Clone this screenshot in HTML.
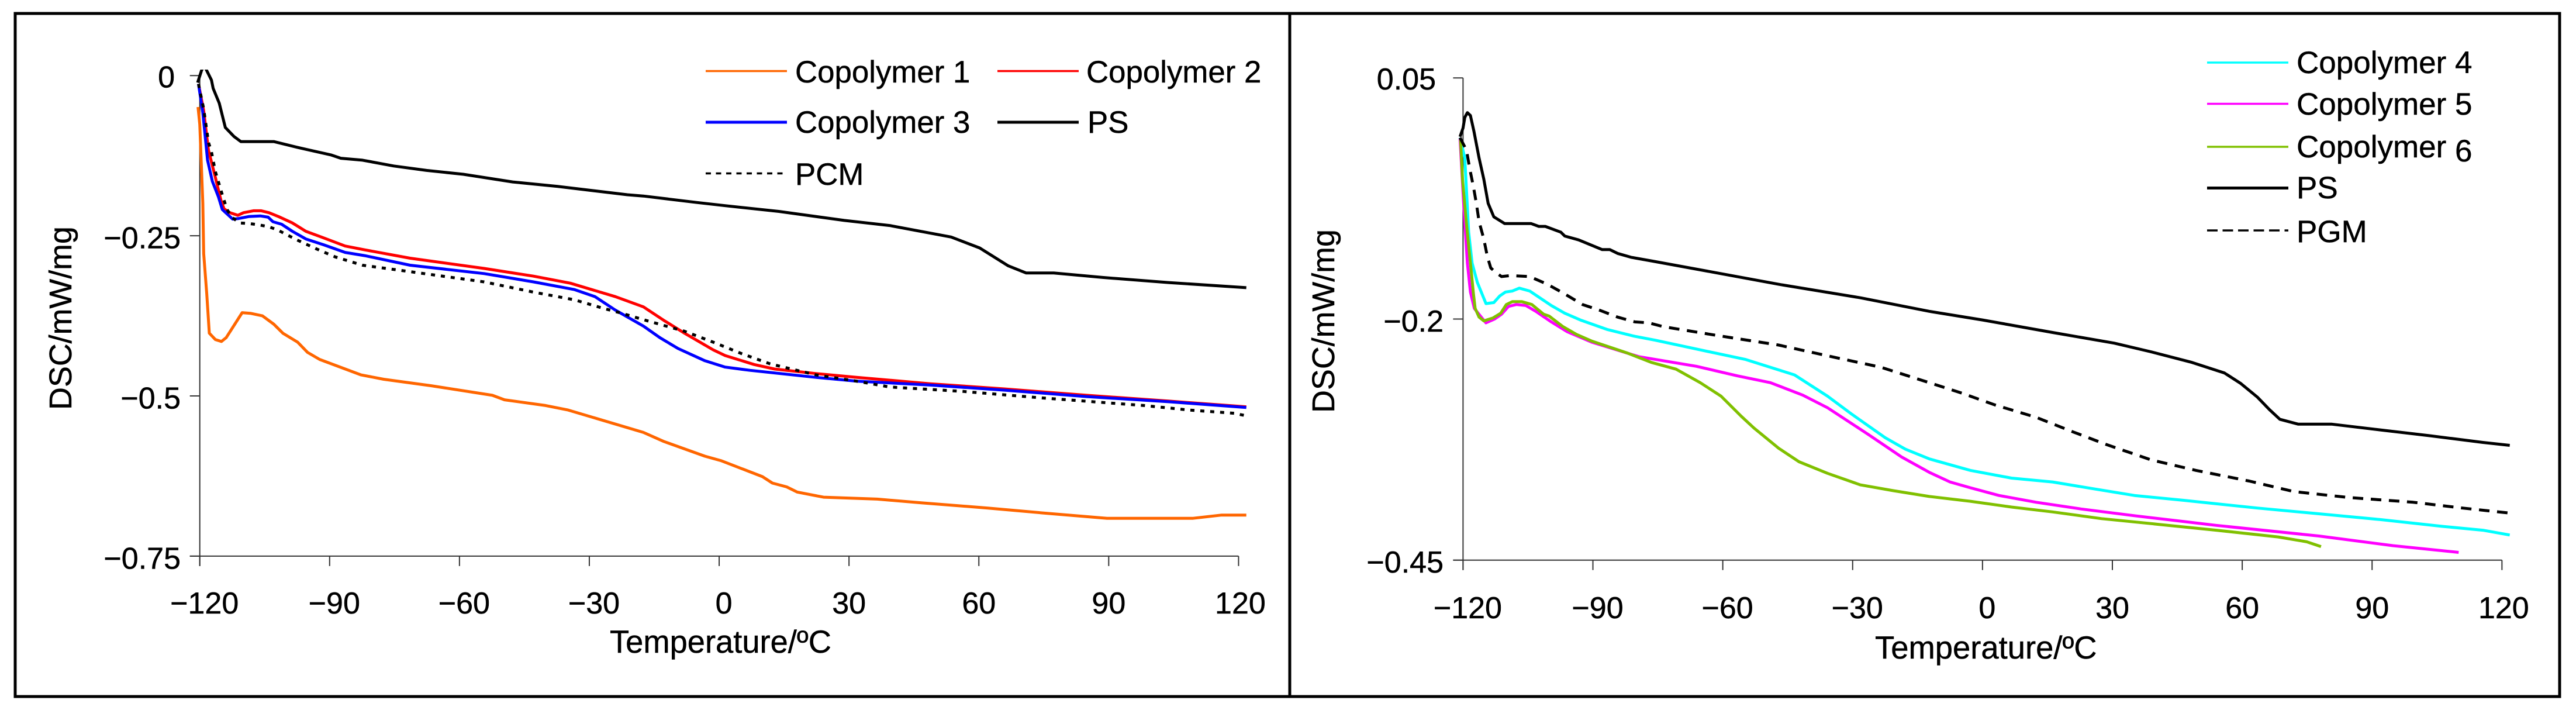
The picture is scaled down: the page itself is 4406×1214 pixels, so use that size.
<!DOCTYPE html>
<html lang="en">
<head>
<meta charset="utf-8">
<title>DSC curves of copolymers</title>
<style>
  html, body { margin: 0; padding: 0; background: #fff; }
  svg { display: block; }
  text { font-family: "Liberation Sans", Arial, sans-serif; fill: #000; stroke: #000; stroke-width: 0.5px; }
</style>
</head>
<body>
<svg id="figure" xmlns="http://www.w3.org/2000/svg" width="4406" height="1214" viewBox="0 0 4406 1214">
  <defs>
    <clipPath id="left-clip"><rect x="300" y="119" width="1900" height="840"/></clipPath>
  </defs>
  <rect x="0" y="0" width="4406" height="1214" fill="#fff"/>
  <rect x="26" y="23" width="4352" height="1168" fill="none" stroke="#000" stroke-width="5"/>
  <line x1="2206" y1="23" x2="2206" y2="1191" stroke="#000" stroke-width="5"/>

  <g id="left-axes"></g>
  <g id="left-series" clip-path="url(#left-clip)"></g>
  <g id="right-axes"></g>
  <g id="right-series"></g>

  <text x="1043" y="1116" font-size="54.3">Temperature/ºC</text>
  <text transform="translate(122,544) rotate(-90)" text-anchor="middle" font-size="53.8">DSC/mW/mg</text>
  <text x="3207" y="1126" font-size="54.4">Temperature/ºC</text>
  <text transform="translate(2282,549) rotate(-90)" text-anchor="middle" font-size="53.8">DSC/mW/mg</text>

  <g font-size="52.8">
    <g>
      <line x1="1207" y1="121.5" x2="1346" y2="121.5" stroke="#ff6600" stroke-width="3.5"/>
      <text x="1360" y="141" font-size="52.8">Copolymer 1</text>
    </g>
    <g>
      <line x1="1706" y1="121.5" x2="1845" y2="121.5" stroke="#ff0000" stroke-width="3.5"/>
      <text x="1858" y="141" font-size="52.8">Copolymer 2</text>
    </g>
    <g>
      <line x1="1207" y1="209" x2="1346" y2="209" stroke="#0000ff" stroke-width="5"/>
      <text x="1360" y="227" font-size="52.8">Copolymer 3</text>
    </g>
    <g>
      <line x1="1706" y1="209" x2="1845" y2="209" stroke="#000" stroke-width="5"/>
      <text x="1860" y="227" font-size="52.8">PS</text>
    </g>
    <g>
      <line x1="1207" y1="296.5" x2="1346" y2="296.5" stroke="#000" stroke-width="3.5" stroke-dasharray="9 8.5"/>
      <text x="1360" y="316" font-size="52.8">PCM</text>
    </g>
  </g>

  <g font-size="53">
    <g>
      <line x1="3775" y1="107" x2="3914" y2="107" stroke="#00ffff" stroke-width="3.5"/>
      <text x="3928" y="125" font-size="53">Copolymer 4</text>
    </g>
    <g>
      <line x1="3775" y1="177.5" x2="3914" y2="177.5" stroke="#ff00ff" stroke-width="3.5"/>
      <text x="3928" y="196" font-size="53">Copolymer 5</text>
    </g>
    <g>
      <line x1="3775" y1="251" x2="3914" y2="251" stroke="#80c000" stroke-width="3.5"/>
      <text x="3928" y="269" font-size="53">Copolymer <tspan dy="7">6</tspan></text>
    </g>
    <g>
      <line x1="3775" y1="321.5" x2="3914" y2="321.5" stroke="#000" stroke-width="5"/>
      <text x="3928" y="339" font-size="53">PS</text>
    </g>
    <g>
      <line x1="3775" y1="394" x2="3914" y2="394" stroke="#000" stroke-width="3.5" stroke-dasharray="18 8.5"/>
      <text x="3928" y="414" font-size="53">PGM</text>
    </g>
  </g>
</svg>

<script>
// ---- axis ticks ----
const xTicks = [-120, -90, -60, -30, 0, 30, 60, 90, 120];
const xTickLabels = ['−120', '−90', '−60', '−30', '0', '30', '60', '90', '120'];
const leftYTicks = [0, -0.25, -0.5, -0.75];
const leftYTickLabels = ['0', '−0.25', '−0.5', '−0.75'];
const rightYTicks = [0.05, -0.2, -0.45];
const rightYTickLabels = ['0.05', '−0.2', '−0.45'];

// ---- left chart series ----
const copolymer1Temps = [-120.4,-120,-119.3,-119.1,-118.4,-117.8,-116.4,-115,-113.9,-110.2,-108.3,-105.5,-102.9,-100.8,-97.4,-95.1,-92.3,-82.8,-77.5,-66.6,-52.4,-49.6,-40.1,-34.9,-17.5,-12.8,-3.3,0.4,10,12.3,15.6,18,24.1,36.5,46.9,62.1,75.4,89.6,109.5,116.1,121.8];
const copolymer1Values = [-0.049,-0.076,-0.199,-0.278,-0.339,-0.402,-0.412,-0.415,-0.409,-0.370,-0.371,-0.375,-0.388,-0.402,-0.416,-0.432,-0.443,-0.467,-0.474,-0.484,-0.499,-0.506,-0.515,-0.522,-0.557,-0.571,-0.594,-0.601,-0.626,-0.636,-0.642,-0.650,-0.658,-0.661,-0.667,-0.675,-0.683,-0.691,-0.691,-0.686,-0.686];

const copolymer2Temps = [-120.3,-119.1,-118,-116.4,-115.1,-114.4,-113,-111.2,-109.9,-107.6,-105.8,-104,-101.8,-98.6,-95.5,-91.9,-86.4,-81.9,-71.4,-54.3,-42.9,-34.4,-24,-17.5,-12.8,-8,-1.4,1.4,8.1,12.8,22.3,31.8,48.8,65.9,84.9,103.8,121.8];
const copolymer2Values = [-0.013,-0.055,-0.116,-0.159,-0.195,-0.208,-0.214,-0.218,-0.214,-0.211,-0.211,-0.214,-0.220,-0.230,-0.243,-0.252,-0.266,-0.272,-0.285,-0.301,-0.313,-0.324,-0.345,-0.361,-0.382,-0.402,-0.428,-0.437,-0.451,-0.458,-0.465,-0.471,-0.481,-0.489,-0.499,-0.508,-0.517];

const copolymer3Temps = [-120.3,-119.3,-118.2,-117.1,-115.7,-114.8,-112.4,-111,-108.7,-106,-104.2,-103.1,-101.1,-98.6,-95.5,-91.4,-86.4,-81.9,-71.4,-54.3,-42.9,-33.4,-28.7,-24,-17.5,-13.7,-9.5,-3.3,1.4,7.1,22.3,31.8,48.8,65.9,84.9,103.8,121.8];
const copolymer3Values = [-0.013,-0.058,-0.132,-0.165,-0.189,-0.209,-0.224,-0.223,-0.220,-0.219,-0.221,-0.228,-0.232,-0.243,-0.255,-0.264,-0.276,-0.281,-0.296,-0.309,-0.322,-0.334,-0.345,-0.366,-0.391,-0.409,-0.426,-0.445,-0.455,-0.460,-0.471,-0.477,-0.483,-0.491,-0.501,-0.509,-0.518];

const psLeftTemps = [-120.5,-119.6,-119,-118.4,-117.3,-116.9,-115.5,-114.1,-112.1,-110.5,-102.9,-96.8,-89.6,-87.4,-82.4,-75.2,-67.6,-59.1,-47.7,-37.3,-21.2,-17.5,-5.2,1.4,13.8,28.9,39.4,53.6,60.2,66.8,70.9,77.3,88.6,103.8,121.8];
const psLeftValues = [-0.011,0.008,0.016,0.008,-0.007,-0.020,-0.043,-0.081,-0.095,-0.103,-0.103,-0.113,-0.124,-0.129,-0.132,-0.141,-0.148,-0.154,-0.166,-0.173,-0.186,-0.188,-0.198,-0.203,-0.212,-0.226,-0.234,-0.252,-0.269,-0.297,-0.308,-0.308,-0.315,-0.323,-0.331];

const pcmTemps = [-120.3,-119.1,-118,-117.3,-116.4,-114.8,-113.7,-112.6,-110.8,-108.5,-106.3,-104,-102,-97.7,-93.2,-88.7,-82.4,-71.4,-54.3,-42.9,-33.4,-26.9,-23,-17.5,-8,-1.4,5.2,11.8,22.3,31.8,39.4,56.4,74.4,98.2,108.6,119,121.8];
const pcmValues = [-0.013,-0.052,-0.104,-0.119,-0.150,-0.186,-0.209,-0.221,-0.230,-0.231,-0.233,-0.236,-0.241,-0.256,-0.270,-0.283,-0.296,-0.306,-0.322,-0.338,-0.350,-0.363,-0.370,-0.381,-0.399,-0.416,-0.434,-0.450,-0.467,-0.477,-0.486,-0.493,-0.503,-0.515,-0.522,-0.527,-0.531];

// ---- right chart series ----
const copolymer4Temps = [-120.7,-119.6,-118.7,-117.9,-116.7,-114.7,-112.9,-111.5,-110.2,-108.6,-107,-104.6,-99.6,-96.5,-92.9,-86.6,-80.3,-75.6,-65.2,-54.7,-43.4,-35.8,-30.1,-22.5,-17.8,-12.3,-2.8,6.7,16.2,25.6,35.1,46.5,63.5,77.7,91.9,106.2,115.6,121.8];
const copolymer4Values = [-0.012,-0.033,-0.110,-0.142,-0.162,-0.184,-0.183,-0.176,-0.172,-0.171,-0.168,-0.171,-0.186,-0.194,-0.201,-0.211,-0.218,-0.222,-0.232,-0.242,-0.258,-0.280,-0.299,-0.323,-0.335,-0.345,-0.357,-0.365,-0.369,-0.376,-0.383,-0.388,-0.396,-0.402,-0.408,-0.415,-0.419,-0.424];

const copolymer5Temps = [-120.7,-119.9,-119,-118.3,-117.4,-115.8,-114.7,-112.7,-111.1,-109.5,-107.7,-105.5,-103.2,-99.6,-96,-90.3,-79.4,-66.1,-56.6,-49,-41.5,-35.8,-26.3,-18.7,-12.3,-7.5,-2.8,3.8,12.4,22.8,35.1,54,77.7,94.8,110];
const copolymer5Values = [-0.013,-0.077,-0.142,-0.172,-0.189,-0.198,-0.204,-0.200,-0.195,-0.187,-0.185,-0.186,-0.192,-0.203,-0.213,-0.224,-0.239,-0.249,-0.259,-0.266,-0.279,-0.292,-0.320,-0.343,-0.359,-0.369,-0.375,-0.383,-0.390,-0.397,-0.404,-0.414,-0.425,-0.435,-0.442];

const copolymer6Temps = [-120.6,-120.1,-119.2,-118.3,-117.6,-117.2,-116.3,-115.2,-113.1,-111.3,-110,-108.6,-106.4,-104.1,-101.4,-100.1,-96.9,-93.8,-90.2,-82.2,-76.5,-70.8,-65.2,-60.4,-55.7,-52.8,-47.1,-42.4,-35.8,-28.2,-20.6,-12.3,-2.8,6.7,16.2,27.5,40.8,54,68.3,74.9,78.2];
const copolymer6Values = [-0.013,-0.057,-0.102,-0.142,-0.174,-0.189,-0.198,-0.202,-0.199,-0.194,-0.185,-0.182,-0.182,-0.185,-0.195,-0.197,-0.208,-0.216,-0.223,-0.235,-0.245,-0.252,-0.266,-0.280,-0.301,-0.313,-0.334,-0.348,-0.360,-0.372,-0.378,-0.384,-0.389,-0.395,-0.400,-0.407,-0.413,-0.419,-0.426,-0.431,-0.436];

const psRightTemps = [-120.7,-120,-119.6,-119,-118.3,-117.5,-116.3,-115.2,-114.2,-112.9,-110.4,-104.3,-102.5,-101,-97.4,-96.5,-93.3,-87.9,-86.1,-84.3,-81.2,-76.2,-60.4,-47.1,-28.2,-12.3,0,16.2,30.4,38.9,48.4,55.9,59.7,63.5,66.3,68.7,72.9,80.6,91.9,103.3,115.6,121.8];
const psRightValues = [-0.011,-0.002,0.009,0.014,0.011,-0.005,-0.033,-0.055,-0.080,-0.094,-0.101,-0.101,-0.104,-0.104,-0.110,-0.114,-0.118,-0.128,-0.128,-0.132,-0.136,-0.140,-0.153,-0.164,-0.178,-0.192,-0.201,-0.214,-0.225,-0.234,-0.245,-0.256,-0.267,-0.281,-0.294,-0.304,-0.309,-0.309,-0.315,-0.321,-0.328,-0.331];

const pgmTemps = [-120.7,-119.2,-118.5,-117.6,-116.9,-116.3,-115.2,-114.4,-113.6,-112.4,-111.1,-109.1,-104.6,-100.5,-96.9,-92.4,-88.4,-84.3,-80.3,-77.1,-73.7,-61.4,-47.1,-33.9,-23.5,-12.3,-4.7,2.8,12.4,20.9,28.5,38.9,49.3,61.6,72,84.4,99.5,110.9,121.3];
const pgmValues = [-0.012,-0.025,-0.043,-0.063,-0.081,-0.099,-0.117,-0.135,-0.147,-0.152,-0.156,-0.155,-0.156,-0.164,-0.173,-0.185,-0.191,-0.198,-0.203,-0.204,-0.208,-0.217,-0.227,-0.240,-0.250,-0.266,-0.277,-0.289,-0.302,-0.317,-0.330,-0.346,-0.357,-0.368,-0.379,-0.385,-0.390,-0.396,-0.401];

// ---- axis functions ----
function leftX(t) { return 341.7 + (t + 120) * 7.403; }
function leftY(v) { return 129.3 - v * 1095.4; }
function rightX(t) { return 2502.4 + (t + 120) * 7.404; }
function rightY(v) { return 133.2 + (0.05 - v) * 1649; }

const NS = 'http://www.w3.org/2000/svg';

function axisLine(parent, x1, y1, x2, y2, name) {
  const el = document.createElementNS(NS, 'line');
  el.setAttribute('x1', x1);
  el.setAttribute('y1', y1);
  el.setAttribute('x2', x2);
  el.setAttribute('y2', y2);
  el.setAttribute('stroke', '#333');
  el.setAttribute('stroke-width', 2);
  
  
  parent.appendChild(el);
}

function tickText(parent, x, y, str, anchor, name) {
  const el = document.createElementNS(NS, 'text');
  el.setAttribute('x', x);
  el.setAttribute('y', y);
  el.setAttribute('font-size', 52);
  el.setAttribute('text-anchor', anchor);
  el.textContent = str;
  
  
  parent.appendChild(el);
}

function drawAxes(parent, prefix, xf, yf, yTicks, yLabels, labelRight, topLabelShift, xLabelBaseline) {
  const x0 = xf(xTicks[0]);
  const x1 = xf(xTicks[xTicks.length - 1]);
  const yTop = yf(yTicks[0]);
  const yBottom = yf(yTicks[yTicks.length - 1]);
  axisLine(parent, x0, yTop, x0, yBottom + 17, prefix + '-y-axis');
  axisLine(parent, x0 - 17, yBottom, x1, yBottom, prefix + '-x-axis');
  xTicks.forEach(function (t, i) {
    const px = xf(t);
    axisLine(parent, px, yBottom, px, yBottom + 17, prefix + '-x-tick');
    const dx = t <= 0 ? 8 : (t === 120 ? 3 : 0);
    tickText(parent, px + dx, xLabelBaseline, xTickLabels[i], 'middle', prefix + '-x-tick-label');
  });
  yTicks.forEach(function (v, i) {
    const py = yf(v);
    axisLine(parent, x0 - 17, py, x0, py, prefix + '-y-tick');
    const shift = i === 0 ? topLabelShift : 0;
    tickText(parent, labelRight + shift, py + (i === 0 ? 20 : 21.5), yLabels[i], 'end', prefix + '-y-tick-label');
  });
}

function drawSeries(parent, temps, values, xf, yf, color, width, dash, name) {
  const pts = temps.map(function (t, i) {
    return xf(t).toFixed(1) + ',' + yf(values[i]).toFixed(1);
  }).join(' ');
  const el = document.createElementNS(NS, 'polyline');
  el.setAttribute('points', pts);
  el.setAttribute('fill', 'none');
  el.setAttribute('stroke', color);
  el.setAttribute('stroke-width', width);
  el.setAttribute('stroke-linejoin', 'round');
  if (dash) {
    el.setAttribute('stroke-dasharray', dash);
  }
  
  
  parent.appendChild(el);
}

drawAxes(document.getElementById('left-axes'), 'left', leftX, leftY, leftYTicks, leftYTickLabels, 309, -10, 1049);
drawAxes(document.getElementById('right-axes'), 'right', rightX, rightY, rightYTicks, rightYTickLabels, 2469, -13, 1057);

const leftGroup = document.getElementById('left-series');
drawSeries(leftGroup, copolymer1Temps, copolymer1Values, leftX, leftY, '#ff6600', 5, null, 'series-copolymer-1');
drawSeries(leftGroup, copolymer2Temps, copolymer2Values, leftX, leftY, '#ff0000', 5, null, 'series-copolymer-2');
drawSeries(leftGroup, copolymer3Temps, copolymer3Values, leftX, leftY, '#0000ff', 5, null, 'series-copolymer-3');
drawSeries(leftGroup, psLeftTemps, psLeftValues, leftX, leftY, '#000000', 5, null, 'series-ps-left');
drawSeries(leftGroup, pcmTemps, pcmValues, leftX, leftY, '#000000', 5, '7 10', 'series-pcm');

const rightGroup = document.getElementById('right-series');
drawSeries(rightGroup, copolymer4Temps, copolymer4Values, rightX, rightY, '#00ffff', 5, null, 'series-copolymer-4');
drawSeries(rightGroup, copolymer5Temps, copolymer5Values, rightX, rightY, '#ff00ff', 5, null, 'series-copolymer-5');
drawSeries(rightGroup, copolymer6Temps, copolymer6Values, rightX, rightY, '#80c000', 5, null, 'series-copolymer-6');
drawSeries(rightGroup, psRightTemps, psRightValues, rightX, rightY, '#000000', 5, null, 'series-ps-right');
drawSeries(rightGroup, pgmTemps, pgmValues, rightX, rightY, '#000000', 5, '18 13', 'series-pgm');
</script>
</body>
</html>
